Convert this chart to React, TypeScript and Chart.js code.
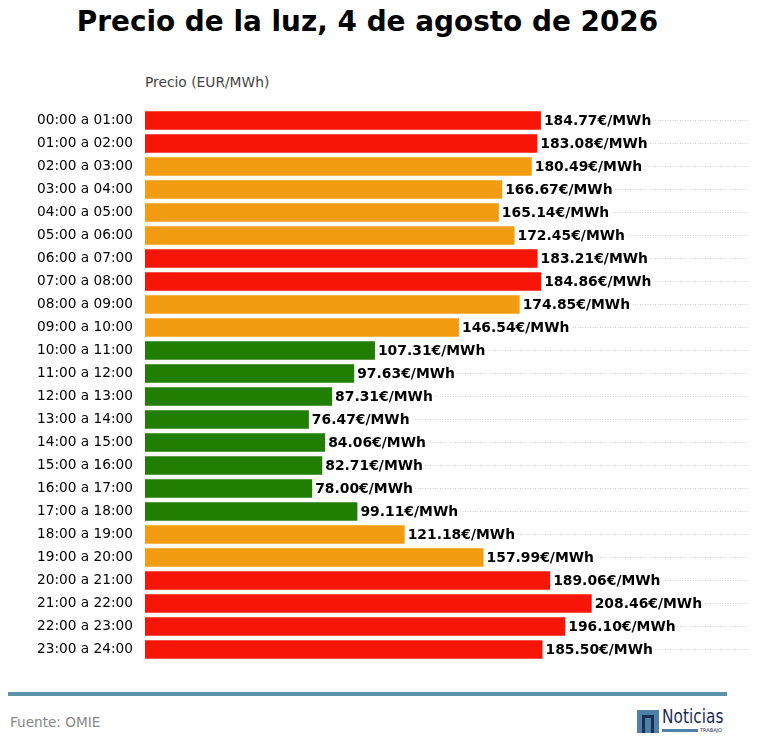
import React, { useEffect, useRef } from "react";
import Chart from "chart.js/auto";
import type { Plugin } from "chart.js";

const HOURS = [
  "00:00 a 01:00", "01:00 a 02:00", "02:00 a 03:00", "03:00 a 04:00",
  "04:00 a 05:00", "05:00 a 06:00", "06:00 a 07:00", "07:00 a 08:00",
  "08:00 a 09:00", "09:00 a 10:00", "10:00 a 11:00", "11:00 a 12:00",
  "12:00 a 13:00", "13:00 a 14:00", "14:00 a 15:00", "15:00 a 16:00",
  "16:00 a 17:00", "17:00 a 18:00", "18:00 a 19:00", "19:00 a 20:00",
  "20:00 a 21:00", "21:00 a 22:00", "22:00 a 23:00", "23:00 a 24:00",
];

const PRICES = [
  184.77, 183.08, 180.49, 166.67, 165.14, 172.45, 183.21, 184.86,
  174.85, 146.54, 107.31, 97.63, 87.31, 76.47, 84.06, 82.71,
  78.0, 99.11, 121.18, 157.99, 189.06, 208.46, 196.1, 185.5,
];

// price level per hour: h = high, m = medium, l = low
const LEVELS = [
  "h", "h", "m", "m", "m", "m", "h", "h",
  "m", "m", "l", "l", "l", "l", "l", "l",
  "l", "l", "m", "m", "h", "h", "h", "h",
];

const LEVEL_COLOR: Record<string, string> = {
  h: "#f71507",
  m: "#f39c12",
  l: "#217e00",
};

const FONT = "'DejaVu Sans', sans-serif";

export default function App() {
  const canvasRef = useRef<HTMLCanvasElement | null>(null);

  useEffect(() => {
    const ctx = canvasRef.current?.getContext("2d");
    if (!ctx) return;

    // value labels at bar ends, with white backing so the dotted grid stops at the text
    const valueLabels: Plugin<"bar"> = {
      id: "valueLabels",
      afterDatasetsDraw(c) {
        const meta = c.getDatasetMeta(0);
        const g = c.ctx;
        g.save();
        g.font = `bold 13.9px ${FONT}`;
        g.textBaseline = "middle";
        g.textAlign = "left";
        meta.data.forEach((bar: any, i) => {
          const txt = `${PRICES[i].toFixed(2)}€/MWh`;
          const w = g.measureText(txt).width;
          g.fillStyle = "#ffffff";
          g.fillRect(bar.x + 1, bar.y - 8, w + 4, 16);
          g.fillStyle = "#000000";
          g.fillText(txt, bar.x + 3, bar.y + 1);
        });
        g.restore();
      },
    };

    const chart = new Chart(ctx, {
      type: "bar",
      data: {
        labels: HOURS,
        datasets: [
          {
            data: PRICES,
            backgroundColor: LEVELS.map((l) => LEVEL_COLOR[l]),
            borderWidth: 0,
            barPercentage: 0.8,
            categoryPercentage: 1,
          },
        ],
      },
      options: {
        indexAxis: "y",
        animation: false,
        responsive: false,
        maintainAspectRatio: false,
        layout: { padding: { left: 0, right: 10, top: 0, bottom: 0 } },
        scales: {
          x: {
            display: false,
            min: 0,
            max: 281.4,
          },
          y: {
            afterFit: (s: any) => {
              s.width = 145;
              s.paddingTop = 0;
              s.paddingBottom = 0;
            },
            ticks: {
              color: "#000",
              padding: 12,
              font: { family: FONT, size: 13.7 },
            },
            grid: {
              offset: false,
              drawTicks: false,
              color: "#d2d2d2",
              lineWidth: 1,
            },
            border: { display: false, dash: [1, 1.5] },
          },
        },
        plugins: {
          legend: { display: false },
          tooltip: { enabled: false },
        },
      },
      plugins: [valueLabels],
    });

    return () => {
      chart.destroy();
    };
  }, []);

  return (
    <div
      style={{
        position: "absolute",
        left: 0,
        top: 0,
        width: 758,
        height: 755,
        background: "#fff",
        fontFamily: FONT,
      }}
    >
      <div
        style={{
          position: "absolute",
          left: 0,
          top: 5,
          width: 735,
          textAlign: "center",
          fontWeight: "bold",
          fontSize: 27.9,
          color: "#000",
        }}
      >
        Precio de la luz, 4 de agosto de 2026
      </div>
      <div
        style={{
          position: "absolute",
          left: 145,
          top: 74,
          fontSize: 13.8,
          color: "#444",
        }}
      >
        Precio (EUR/MWh)
      </div>
      <canvas
        ref={canvasRef}
        width={758}
        height={552}
        style={{ position: "absolute", left: 0, top: 109, width: 758, height: 552 }}
      />
      <div
        style={{
          position: "absolute",
          left: 8,
          top: 692,
          width: 719,
          height: 4,
          background: "#5d92ab",
        }}
      />
      <div
        style={{
          position: "absolute",
          left: 10,
          top: 714,
          fontSize: 13.6,
          color: "#888",
        }}
      >
        Fuente: OMIE
      </div>
      <div
        style={{
          position: "absolute",
          left: 637,
          top: 710,
          width: 22,
          height: 23,
          background: "#4f81a8",
        }}
      >
        <div
          style={{
            position: "absolute",
            left: 5,
            top: 5,
            width: 12,
            height: 18,
            borderTop: "3px solid #1c2f55",
            borderLeft: "3px solid #1c2f55",
            borderRight: "3px solid #1c2f55",
            boxSizing: "border-box",
          }}
        />
      </div>
      <div
        style={{
          position: "absolute",
          left: 662,
          top: 704,
          fontFamily: "'DejaVu Sans Condensed', 'Liberation Sans Narrow', sans-serif",
          fontSize: 19,
          color: "#1c2f55",
          transform: "scale(0.9, 1.05)",
          transformOrigin: "left top",
        }}
      >
        Noticias
      </div>
      <div
        style={{
          position: "absolute",
          left: 662,
          top: 729,
          width: 36,
          height: 3,
          background: "#4f81a8",
        }}
      />
      <div
        style={{
          position: "absolute",
          left: 700,
          top: 727,
          fontSize: 5,
          color: "#1c2f55",
        }}
      >
        TRABAJO
      </div>
    </div>
  );
}
